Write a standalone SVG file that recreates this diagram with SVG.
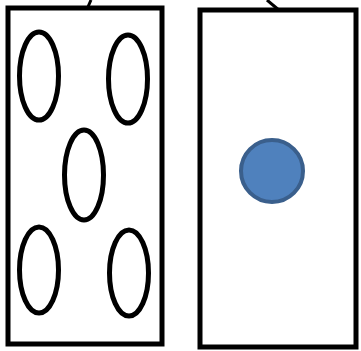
<svg xmlns="http://www.w3.org/2000/svg" width="361" height="351" viewBox="0 0 361 351">
<style>
.card{fill:#fff;stroke:#000;stroke-width:5}
.pip{fill:none;stroke:#000;stroke-width:5}
.dot{fill:#4f81bd;stroke:#3a5f8c;stroke-width:4}
.tick{stroke:#000;stroke-width:3;fill:none}
</style>
<rect width="361" height="351" fill="#fff"/>
<g id="connectors">
<line class="tick" x1="87" y1="9" x2="91" y2="0"/>
<line class="tick" x1="267" y1="0" x2="280" y2="11"/>
</g>
<g id="left-card">
<rect class="card" x="8" y="8" width="154" height="336"/>
<ellipse class="pip" cx="39" cy="76" rx="19.5" ry="44"/>
<ellipse class="pip" cx="128" cy="79" rx="19.5" ry="44"/>
<ellipse class="pip" cx="84" cy="175" rx="19.5" ry="45"/>
<ellipse class="pip" cx="39" cy="270" rx="19.5" ry="43"/>
<ellipse class="pip" cx="129" cy="273" rx="19.5" ry="43"/>
</g>
<g id="right-card">
<rect class="card" x="200" y="10" width="156" height="337"/>
<circle class="dot" cx="272" cy="171" r="31"/>
</g>
</svg>
